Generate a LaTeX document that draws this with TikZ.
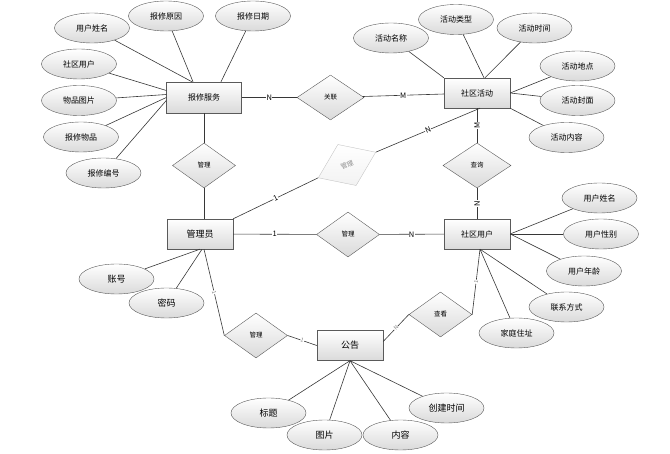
\documentclass[tikz,border=0pt]{standalone}
\usepackage{fontspec}
\newfontfamily\cjk{Noto Sans CJK SC}
\usepackage{tikz}
\usetikzlibrary{shapes.geometric}
\usepackage{xcolor}
\definecolor{erline}{RGB}{55,55,55}
\definecolor{erborder}{RGB}{90,90,90}
\definecolor{ershade}{RGB}{218,218,218}
\tikzstyle{entity} = [rectangle, minimum width=66pt, minimum height=30pt, inner sep=0pt, draw=erborder, top color=white, bottom color=ershade, font=\cjk\fontsize{8}{8}\selectfont]
\tikzstyle{attrib} = [ellipse, minimum width=75pt, minimum height=30pt, inner sep=0pt, draw=erborder, top color=white, bottom color=ershade, font=\cjk\fontsize{8}{8}\selectfont]
\tikzstyle{relation} = [diamond, minimum width=63pt, minimum height=45pt, inner sep=0pt, draw=erborder, top color=white, bottom color=ershade, font=\cjk\fontsize{6.5}{6.5}\selectfont]
\tikzstyle{link} = [draw=erline, line width=0.6pt]
\tikzstyle{card} = [midway, fill=white, inner sep=0.4pt, font=\cjk\fontsize{7.5}{7.5}\selectfont]
\tikzstyle{faint} = [text=gray, font=\cjk\fontsize{5.5}{5.5}\selectfont]

\begin{document}
\begin{tikzpicture}[x=1pt, y=-1pt]
    \useasboundingbox (0,0) rectangle (670,454);

    % Entities
    \node[entity, minimum width=75pt, minimum height=31pt] (repair) at (204,97.5) {报修服务};
    \node[entity] (activity) at (477,93) {社区活动};
    \node[entity, font=\cjk\fontsize{9}{9}\selectfont] (admin) at (200,234) {管理员};
    \node[entity] (user) at (477,234) {社区用户};
    \node[entity, font=\cjk\fontsize{9}{9}\selectfont] (notice) at (350,345.5) {公告};

    % Relations
    \node[relation, minimum width=67pt] (assoc) at (330.5,97.5) {关联};
    \node[relation] (mgrepair) at (204,165.5) {管理};
    \node[relation, rotate=24, draw=gray!45, text=gray!90, bottom color=gray!10] (mgactivity) at (347,165) {管理};
    \node[relation] (mguser) at (348,234.5) {管理};
    \node[relation, minimum width=68pt] (query) at (477,165.5) {查询};
    \node[relation] (mgnotice) at (256,335.5) {管理};
    \node[relation] (view) at (440.5,314.5) {查看};

    % Repair attributes
    \node[attrib] (rname) at (92,28) {用户姓名};
    \node[attrib] (rreason) at (166,16) {报修原因};
    \node[attrib] (rdate) at (253,16) {报修日期};
    \node[attrib] (ruser) at (79,64) {社区用户};
    \node[attrib] (rpic) at (79,100.5) {物品图片};
    \node[attrib] (ritem) at (81,137) {报修物品};
    \node[attrib] (rno) at (103.5,173) {报修编号};

    % Activity attributes
    \node[attrib] (aname) at (391,38) {活动名称};
    \node[attrib] (atype) at (456,19.5) {活动类型};
    \node[attrib] (atime) at (534.5,28) {活动时间};
    \node[attrib] (aplace) at (577.5,66) {活动地点};
    \node[attrib] (acover) at (577.5,100.5) {活动封面};
    \node[attrib] (acontent) at (566.5,137.5) {活动内容};

    % User attributes
    \node[attrib] (uname) at (599.5,198) {用户姓名};
    \node[attrib] (usex) at (601,234) {用户性别};
    \node[attrib] (uage) at (584,271) {用户年龄};
    \node[attrib] (uphone) at (566.5,307) {联系方式};
    \node[attrib] (uaddr) at (516.5,333) {家庭住址};

    % Admin attributes
    \node[attrib, font=\cjk\fontsize{9}{9}\selectfont] (account) at (116.5,279) {账号};
    \node[attrib, font=\cjk\fontsize{9}{9}\selectfont] (passwd) at (166.5,303) {密码};

    % Notice attributes
    \node[attrib, font=\cjk\fontsize{9}{9}\selectfont] (ntitle) at (268.5,413) {标题};
    \node[attrib, font=\cjk\fontsize{9}{9}\selectfont] (npic) at (324.5,435) {图片};
    \node[attrib, font=\cjk\fontsize{9}{9}\selectfont] (ncontent) at (400.5,435) {内容};
    \node[attrib, font=\cjk\fontsize{9}{9}\selectfont] (ntime) at (446.5,408) {创建时间};

    % Attribute lines
    \draw[link] (rname) -- ([xshift=-12pt]repair.north);
    \draw[link] (rreason) -- ([xshift=-11pt]repair.north);
    \draw[link] (rdate) -- ([xshift=17pt]repair.north);
    \draw[link] (ruser) -- ([yshift=7pt]repair.west);
    \draw[link] (rpic) -- ([yshift=3pt]repair.west);
    \draw[link] (ritem) -- (repair.west);
    \draw[link] (rno) -- ([yshift=-3pt]repair.west);
    \draw[link] (aname) -- (activity.north west);
    \draw[link] (atype) -- ([xshift=7pt]activity.north);
    \draw[link] (atime) -- ([xshift=8pt]activity.north);
    \draw[link] (aplace) -- (activity.east);
    \draw[link] (acover) -- (activity.east);
    \draw[link] (acontent) -- (activity.south east);
    \draw[link] (uname) -- (user.east);
    \draw[link] (usex) -- (user.east);
    \draw[link] (uage) -- (user.east);
    \draw[link] (uphone) -- ([xshift=3pt]user.south);
    \draw[link] (uaddr) -- ([xshift=3pt]user.south);
    \draw[link] (account) -- (admin.south);
    \draw[link] (passwd) -- ([xshift=2pt]admin.south);
    \draw[link] (ntitle) -- (notice.south);
    \draw[link] (npic) -- (notice.south);
    \draw[link] (ncontent) -- (notice.south);
    \draw[link] (ntime) -- (notice.south);

    % Relation lines
    \draw[link] (repair) -- (assoc) node[card] {N};
    \draw[link] (assoc) -- (activity) node[card] {M};
    \draw[link] (repair) -- (mgrepair);
    \draw[link] (mgrepair) -- (mgrepair |- admin.north);
    \draw[link] (admin.north east) -- (mgactivity.west) node[card, sloped] {1};
    \draw[link] (mgactivity.east) -- ([xshift=3pt]activity.south) node[card, sloped] {N};
    \draw[link] (admin) -- (mguser) node[card] {1};
    \draw[link] (mguser) -- (user) node[card] {N};
    \draw[link] (activity) -- (query) node[card, rotate=90] {M};
    \draw[link] (query) -- (user) node[card, rotate=90] {N};
    \draw[link] ([xshift=4pt]admin.south) -- (mgnotice.west) node[card, sloped, faint] {1};
    \draw[link] (mgnotice.east) -- (notice.west) node[card, sloped, faint] {1};
    \draw[link] ([yshift=4pt]notice.east) -- (view.west) node[card, sloped, faint] {N};
    \draw[link] (view.east) -- ([xshift=3pt]user.south) node[card, sloped, faint] {1};
\end{tikzpicture}
\end{document}
